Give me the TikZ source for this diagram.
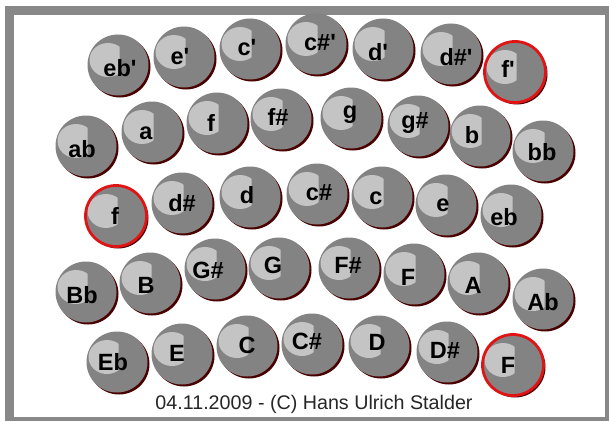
\documentclass[tikz,border=0pt]{standalone}
\usepackage{fontspec}
\setmainfont{Liberation Sans}
\usetikzlibrary{shadows}
\definecolor{btngrey}{HTML}{838383}
\definecolor{hlgrey}{HTML}{C4C4C4}
\definecolor{shadowc}{HTML}{4A0000}
\definecolor{ringred}{HTML}{E01414}
\definecolor{framegrey}{HTML}{888888}
\newcommand{\ap}{\textquotesingle}
\tikzset{
  btn/.style={circle, minimum size=61pt, inner sep=0pt, fill=btngrey,
    general shadow={fill=shadowc, shadow xshift=2pt, shadow yshift=-2pt},
    path picture={
      \begin{scope}
        \clip ([xshift=-40pt,yshift=-40pt]path picture bounding box.center) rectangle ([xshift=1.5pt,yshift=40pt]path picture bounding box.center);
        \fill[hlgrey] ([xshift=-10pt,yshift=5pt]path picture bounding box.center) ellipse [x radius=18.5pt, y radius=17pt];
      \end{scope}}},
  redbtn/.style={btn, draw=ringred, line width=2.8pt},
  lbl/.style={font=\fontsize{23.5}{23.5}\selectfont\bfseries, text=black, inner sep=0pt},
  caption/.style={font=\fontsize{19.7}{19.7}\selectfont, text=black!85, inner sep=0pt},
}
\newcommand{\btnat}[7][btn]{%
  \node[#1] (#2) at (#3,#4) {};
  \node[lbl] (#2t) at (#5,#6) {#7};}
\begin{document}
\begin{tikzpicture}[x=1pt,y=-1pt]
\useasboundingbox (0,0) rectangle (609,420);
\fill[white] (0,0) rectangle (609,420);
\draw[framegrey, line width=9pt] (9.5,10.5) rectangle (609.5,421.5);
% row 1
\btnat{r1a}{118}{65}{120}{68}{eb\ap}
\btnat{r1b}{184}{57}{180}{57}{e\ap}
\btnat{r1c}{250}{49}{247}{48}{c\ap}
\btnat{r1d}{316}{44}{320}{43}{c\#\ap}
\btnat{r1e}{383}{49}{378}{52}{d\ap}
\btnat{r1f}{451}{54}{456}{57}{d\#\ap}
\btnat[redbtn]{r1g}{515}{72}{508}{69}{f\ap}
% row 2
\btnat{r2a}{86}{146}{82}{149}{ab}
\btnat{r2b}{152}{132}{146}{133}{a}
\btnat{r2c}{217}{123}{211}{123}{f}
\btnat{r2d}{281}{119}{278}{117}{f\#}
\btnat{r2e}{351}{118}{350}{115}{g}
\btnat{r2f}{418}{126}{415}{123}{g\#}
\btnat{r2g}{480}{136}{472}{135}{b}
\btnat{r2h}{543}{151}{542}{152}{bb}
% row 3
\btnat[redbtn]{r3a}{116}{216}{115}{216}{f}
\btnat{r3b}{182}{203}{182}{203}{d\#}
\btnat{r3c}{250}{197}{247}{195}{d}
\btnat{r3d}{317}{194}{319}{193}{c\#}
\btnat{r3e}{382}{197}{376}{198}{c}
\btnat{r3f}{446}{205}{443}{205}{e}
\btnat{r3g}{511}{215}{504}{217}{eb}
% row 4
\btnat{r4a}{86}{292}{82}{295}{Bb}
\btnat{r4b}{150}{283}{146}{285}{B}
\btnat{r4c}{215}{269}{208}{270}{G\#}
\btnat{r4d}{279}{268}{273}{265}{G}
\btnat{r4e}{349}{268}{348}{265}{F\#}
\btnat{r4f}{414}{274}{408}{277}{F}
\btnat{r4g}{478}{283}{473}{285}{A}
\btnat{r4h}{543}{299}{543}{302}{Ab}
% row 5
\btnat{r5a}{117}{362}{113}{362}{Eb}
\btnat{r5b}{182}{354}{177}{353}{E}
\btnat{r5c}{247}{346}{247}{345}{C}
\btnat{r5d}{312}{344}{307}{341}{C\#}
\btnat{r5e}{379}{346}{377}{342}{D}
\btnat{r5f}{447}{352}{445}{350}{D\#}
\btnat[redbtn]{r5g}{513}{365}{508}{365}{F}
\node[caption] (cap) at (314,404) {04.11.2009 - (C) Hans Ulrich Stalder};
\end{tikzpicture}
\end{document}
